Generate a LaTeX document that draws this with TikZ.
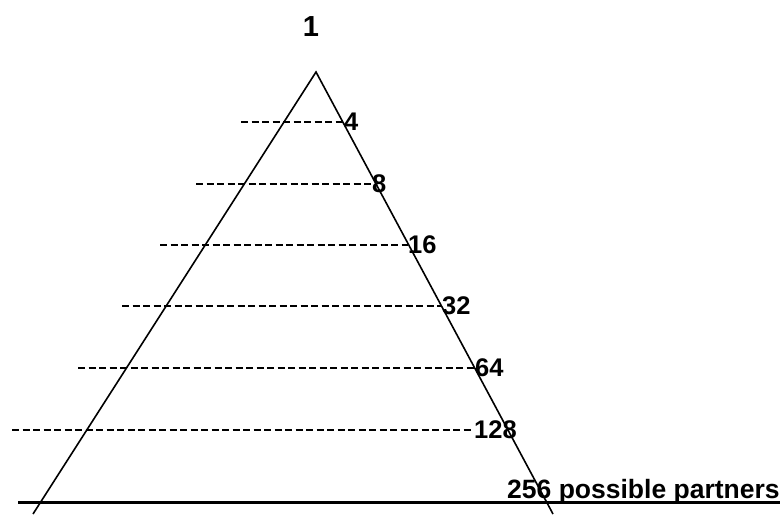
\documentclass[tikz,border=0pt]{standalone}
\usepackage{fontspec}
\setmainfont{Liberation Sans}
\begin{document}
\begin{tikzpicture}[x=1pt, y=-1pt,
    lvl/.style={font=\fontsize{25.5}{30}\selectfont\bfseries, inner sep=0pt, anchor=west},
    cut/.style={dashed, dash pattern=on 7pt off 3.5pt, line width=1.7pt}]
  \useasboundingbox (0,0) rectangle (783,514);
  % the triangle, its legs run off the bottom edge
  \coordinate (apex) at (316,72);
  \coordinate (foot-l) at (33,514);
  \coordinate (foot-r) at (553,514);
  \draw[line width=1.6pt] (foot-l) -- (apex) -- (foot-r);
  \node[font=\fontsize{29}{34}\selectfont\bfseries] (top) at (311,27) {1};
  % one dashed cut per level, label at its right end
  \foreach \y/\xl/\xr/\n in {122/241/344/4, 184/196/372/8, 245/160/408/16,
                             306/122/442/32, 368/78/475/64, 430/12/474/128}{
     \coordinate (cut-\n) at (\xl,\y);
     \node[lvl] (lab-\n) at (\xr,\y) {\n};
     \draw[cut] (cut-\n) -- (lab-\n.west); }
  % the base
  \coordinate (base-l) at (18,502);
  \coordinate (base-r) at (780,502);
  \draw[line width=3pt] (base-l) -- (base-r);
  \node[font=\fontsize{26.5}{30}\selectfont\bfseries, inner sep=0pt, anchor=base west] (partners) at (507,498) {256 possible partners};
\end{tikzpicture}
\end{document}
